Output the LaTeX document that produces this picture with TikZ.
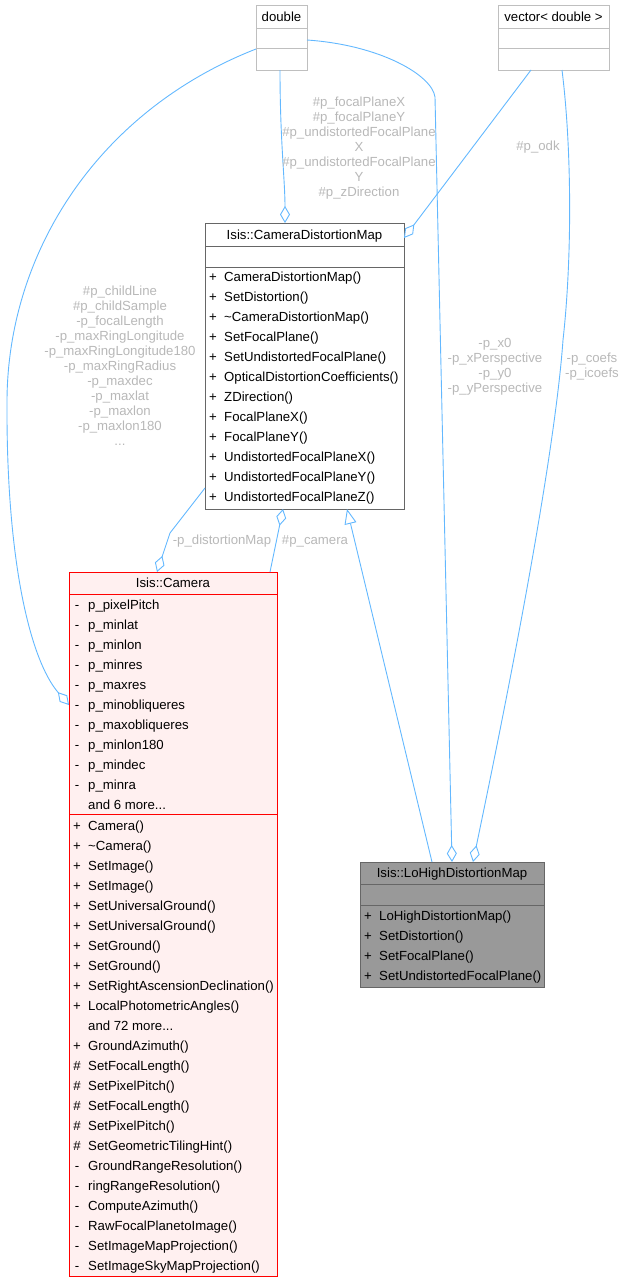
\documentclass[tikz,border=0pt]{standalone}
\usepackage{fontspec}
\setmainfont{Liberation Sans}
\usetikzlibrary{arrows.meta}
\definecolor{edgeblue}{HTML}{63B8FF}
\definecolor{lblgray}{HTML}{B8B8B8}
\definecolor{lgray}{HTML}{BFBFBF}
\definecolor{dgray}{HTML}{666666}
\definecolor{hlfill}{HTML}{999999}
\definecolor{camfill}{HTML}{FFF0F0}
\definecolor{camred}{HTML}{FF0000}
\newcommand\mrow[5]{%
  \node[symb] (#1s) at (#2+8,#3+4.5) {#4};
  \node[mtext] (#1) at (#2+19,#3+4.5) {#5};}
\begin{document}
\begin{tikzpicture}[x=1pt,y=-1pt,
  font=\fontsize{13.2}{15}\selectfont,
  box/.style={draw, line width=1pt, anchor=north west, inner sep=0, outer sep=0},
  symb/.style={anchor=base, inner sep=0},
  mtext/.style={anchor=base west, inner sep=0},
  ttl/.style={anchor=base, inner sep=0},
  lbl/.style={text=lblgray, align=center, inner sep=0},
  edge/.style={draw=edgeblue, line width=0.9pt},
  agg/.style={edge, -{Diamond[open, fill=white, length=17pt, width=10pt]}},
  inh/.style={edge, -{Triangle[open, fill=white, length=15pt, width=12pt]}}]
\useasboundingbox (0,0) rectangle (624,1283);

% double
\node[box, draw=lgray, fill=white, minimum width=51pt, minimum height=65pt] (dbl) at (256,5) {};
\draw[lgray, line width=1pt] (256,28) -- (307,28) (256,48) -- (307,48);
\node[ttl] (dblt) at (281.5,21.5) {double};

% vector
\node[box, draw=lgray, fill=white, minimum width=111pt, minimum height=65pt] (vec) at (498,5) {};
\draw[lgray, line width=1pt] (498,28) -- (609,28) (498,48) -- (609,48);
\node[ttl] (vect) at (553.5,21.5) {vector< double >};

% CameraDistortionMap
\node[box, draw=dgray, fill=white, minimum width=199pt, minimum height=286pt] (cdm) at (205,223) {};
\draw[dgray, line width=1pt] (205,246) -- (404,246) (205,267) -- (404,267);
\node[ttl] (cdmt) at (304.5,239) {Isis::CameraDistortionMap};
\mrow{cdm1}{205}{277}{+}{CameraDistortionMap()}
\mrow{cdm2}{205}{297}{+}{SetDistortion()}
\mrow{cdm3}{205}{317}{+}{\textasciitilde CameraDistortionMap()}
\mrow{cdm4}{205}{337}{+}{SetFocalPlane()}
\mrow{cdm5}{205}{357}{+}{SetUndistortedFocalPlane()}
\mrow{cdm6}{205}{377}{+}{OpticalDistortionCoefficients()}
\mrow{cdm7}{205}{397}{+}{ZDirection()}
\mrow{cdm8}{205}{417}{+}{FocalPlaneX()}
\mrow{cdm9}{205}{437}{+}{FocalPlaneY()}
\mrow{cdm10}{205}{457}{+}{UndistortedFocalPlaneX()}
\mrow{cdm11}{205}{477}{+}{UndistortedFocalPlaneY()}
\mrow{cdm12}{205}{497}{+}{UndistortedFocalPlaneZ()}

% Camera
\node[box, draw=camred, fill=camfill, minimum width=208pt, minimum height=704pt] (cam) at (69,572) {};
\draw[camred, line width=1pt] (69,594) -- (277,594) (69,814) -- (277,814);
\node[ttl] (camt) at (173,587.5) {Isis::Camera};
\mrow{ca1}{69}{605}{-}{p\_pixelPitch}
\mrow{ca2}{69}{625}{-}{p\_minlat}
\mrow{ca3}{69}{645}{-}{p\_minlon}
\mrow{ca4}{69}{665}{-}{p\_minres}
\mrow{ca5}{69}{685}{-}{p\_maxres}
\mrow{ca6}{69}{705}{-}{p\_minobliqueres}
\mrow{ca7}{69}{725}{-}{p\_maxobliqueres}
\mrow{ca8}{69}{745}{-}{p\_minlon180}
\mrow{ca9}{69}{765}{-}{p\_mindec}
\mrow{ca10}{69}{785}{-}{p\_minra}
\mrow{ca11}{69}{805}{}{and 6 more...}
\mrow{cm1}{69}{826}{+}{Camera()}
\mrow{cm2}{69}{846}{+}{\textasciitilde Camera()}
\mrow{cm3}{69}{866}{+}{SetImage()}
\mrow{cm4}{69}{886}{+}{SetImage()}
\mrow{cm5}{69}{906}{+}{SetUniversalGround()}
\mrow{cm6}{69}{926}{+}{SetUniversalGround()}
\mrow{cm7}{69}{946}{+}{SetGround()}
\mrow{cm8}{69}{966}{+}{SetGround()}
\mrow{cm9}{69}{986}{+}{SetRightAscensionDeclination()}
\mrow{cm10}{69}{1006}{+}{LocalPhotometricAngles()}
\mrow{cm11}{69}{1026}{}{and 72 more...}
\mrow{cm12}{69}{1046}{+}{GroundAzimuth()}
\mrow{cm13}{69}{1066}{\#}{SetFocalLength()}
\mrow{cm14}{69}{1086}{\#}{SetPixelPitch()}
\mrow{cm15}{69}{1106}{\#}{SetFocalLength()}
\mrow{cm16}{69}{1126}{\#}{SetPixelPitch()}
\mrow{cm17}{69}{1146}{\#}{SetGeometricTilingHint()}
\mrow{cm18}{69}{1166}{-}{GroundRangeResolution()}
\mrow{cm19}{69}{1186}{-}{ringRangeResolution()}
\mrow{cm20}{69}{1206}{-}{ComputeAzimuth()}
\mrow{cm21}{69}{1226}{-}{RawFocalPlanetoImage()}
\mrow{cm22}{69}{1246}{-}{SetImageMapProjection()}
\mrow{cm23}{69}{1266}{-}{SetImageSkyMapProjection()}

% LoHighDistortionMap
\node[box, draw=dgray, fill=hlfill, minimum width=184pt, minimum height=125pt] (loh) at (360,862) {};
\draw[dgray, line width=1pt] (360,884) -- (544,884) (360,905) -- (544,905);
\node[ttl] (loht) at (452,877.5) {Isis::LoHighDistortionMap};
\mrow{lo1}{360}{916}{+}{LoHighDistortionMap()}
\mrow{lo2}{360}{936}{+}{SetDistortion()}
\mrow{lo3}{360}{956}{+}{SetFocalPlane()}
\mrow{lo4}{360}{976}{+}{SetUndistortedFocalPlane()}

% connectors
\draw[agg] (280,0 |- dbl.south) .. controls (280,140) and (285,180) .. (285,0 |- cdm.north);
\draw[agg] (531,0 |- vec.south) -- (cdm.east |- 0,238);
\draw[agg] (dbl.west |- 0,49) .. controls (100,110) and (8,250) .. (7,400)
  .. controls (6,560) and (30,660) .. (cam.west |- 0,705);
\draw[agg] (cdm.west |- 0,488) -- (170,533) -- (157,0 |- cam.north);
\draw[agg] (270,0 |- cam.north) -- (283,0 |- cdm.south);
\draw[inh] (432,0 |- loh.north) -- (347,0 |- cdm.south);
\draw[agg] (dbl.east |- 0,40) .. controls (380,45) and (432,75) .. (435,97) -- (452,0 |- loh.north);
\draw[agg] (562,0 |- vec.south) .. controls (572,150) and (572,260) .. (563,340)
  .. controls (553,480) and (490,780) .. (473,0 |- loh.north);

% labels
\node[lbl] (l1) at (359,148) {\#p\_focalPlaneX\\\#p\_focalPlaneY\\\#p\_undistortedFocalPlane\\X\\\#p\_undistortedFocalPlane\\Y\\\#p\_zDirection};
\node[lbl] (l2) at (538,147) {\#p\_odk};
\node[lbl] (l3) at (120,366) {\#p\_childLine\\\#p\_childSample\\-p\_focalLength\\-p\_maxRingLongitude\\-p\_maxRingLongitude180\\-p\_maxRingRadius\\-p\_maxdec\\-p\_maxlat\\-p\_maxlon\\-p\_maxlon180\\...};
\node[lbl] (l4) at (222,541) {-p\_distortionMap};
\node[lbl] (l5) at (315,541) {\#p\_camera};
\node[lbl] (l6) at (495,367) {-p\_x0\\-p\_xPerspective\\-p\_y0\\-p\_yPerspective};
\node[lbl] (l7) at (592,367) {-p\_coefs\\-p\_icoefs};
\end{tikzpicture}
\end{document}
